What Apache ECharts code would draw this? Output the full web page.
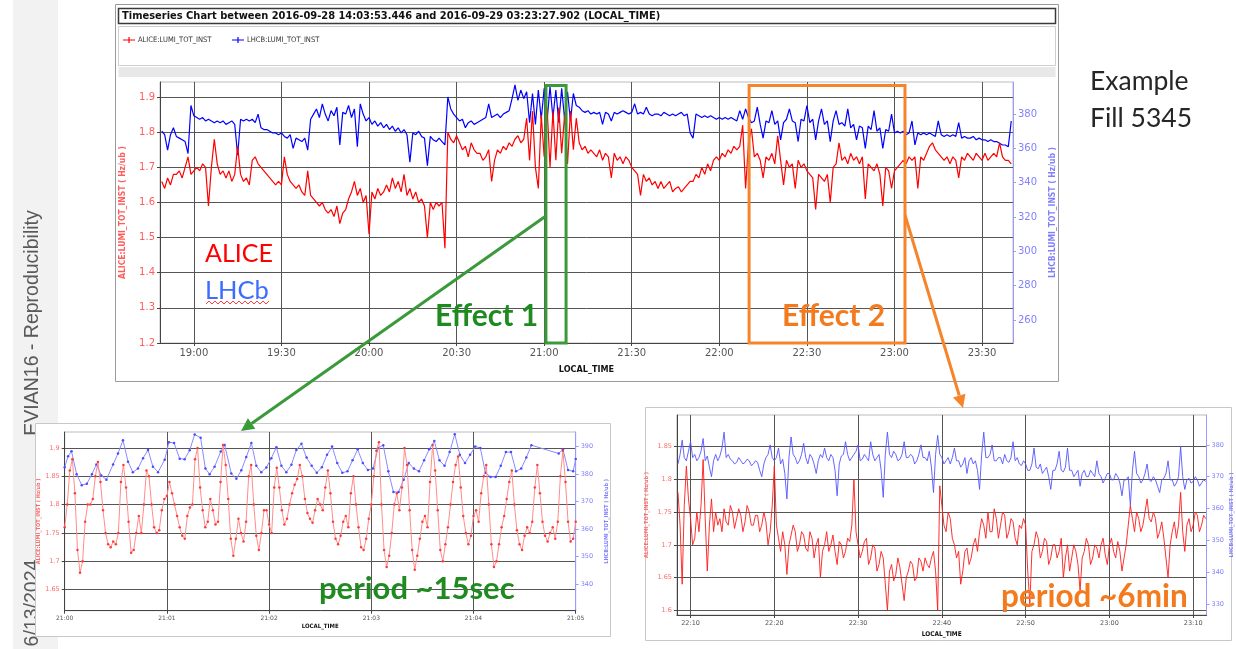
<!DOCTYPE html>
<html><head><meta charset="utf-8">
<script src="https://cdn.jsdelivr.net/npm/echarts@6/dist/echarts.min.js"></script>
<style>html,body{margin:0;padding:0;background:#fff;}#c{width:1236px;height:649px;}</style>
</head><body><div id="c"></div>
<script>
// ================= DATA =================
// Main chart: one sample per minute starting 18:49 (minutes since midnight)
const mainStartMin = 1129;
const mainAlice = [
1.66,1.64,1.67,1.65,1.68,1.68,1.69,1.67,1.70,1.73,
1.68,1.69,1.70,1.69,1.71,1.70,1.59,1.70,1.78,1.71,
1.68,1.69,1.67,1.69,1.66,1.68,1.76,1.68,1.66,1.67,
1.65,1.72,1.73,1.71,1.70,1.69,1.68,1.67,1.66,1.65,
1.66,1.65,1.73,1.68,1.66,1.65,1.64,1.65,1.63,1.62,
1.69,1.62,1.61,1.60,1.59,1.60,1.58,1.57,1.58,1.56,
1.59,1.54,1.57,1.58,1.61,1.63,1.66,1.62,1.64,1.60,
1.62,1.51,1.63,1.61,1.64,1.62,1.63,1.65,1.63,1.67,
1.64,1.66,1.63,1.68,1.62,1.64,1.61,1.63,1.60,1.61,
1.59,1.50,1.60,1.58,1.60,1.59,1.60,1.47,1.80,1.78,
1.77,1.79,1.77,1.75,1.76,1.73,1.77,1.75,1.74,1.74,
1.72,1.73,1.75,1.66,1.72,1.75,1.74,1.76,1.75,1.77,
1.76,1.78,1.79,1.77,1.78,1.84,1.72,1.86,1.70,1.64,
1.85,1.73,1.87,1.70,1.86,1.72,1.87,1.74,1.85,1.71,
1.86,1.75,1.84,1.77,1.75,1.76,1.74,1.75,1.74,1.73,
1.75,1.72,1.74,1.73,1.67,1.74,1.72,1.73,1.71,1.73,
1.72,1.70,1.69,1.68,1.62,1.68,1.66,1.67,1.65,1.66,
1.64,1.66,1.64,1.65,1.66,1.63,1.64,1.645,1.63,1.64,
1.65,1.66,1.66,1.68,1.67,1.70,1.68,1.71,1.69,1.72,
1.73,1.72,1.74,1.73,1.75,1.74,1.76,1.75,1.76,1.82,
1.64,1.77,1.81,1.73,1.74,1.72,1.67,1.73,1.72,1.74,
1.71,1.79,1.72,1.65,1.72,1.70,1.71,1.64,1.72,1.70,
1.71,1.69,1.68,1.67,1.58,1.68,1.67,1.66,1.68,1.60,
1.70,1.71,1.77,1.72,1.73,1.71,1.74,1.72,1.73,1.71,
1.73,1.61,1.71,1.70,1.69,1.71,1.68,1.59,1.70,1.69,
1.64,1.69,1.70,1.71,1.72,1.71,1.73,1.72,1.73,1.64,
1.73,1.72,1.74,1.76,1.77,1.75,1.74,1.73,1.72,1.73,
1.71,1.73,1.72,1.67,1.73,1.72,1.74,1.73,1.72,1.74,
1.73,1.72,1.74,1.72,1.73,1.74,1.73,1.77,1.73,1.72,
1.72,1.71];
const mainLhcb = [
370,368,359,368,372,367,366,365,364,357,
385,379,378,377,378,376,377,376,375,376,
375,376,374,375,376,374,356,377,376,377,
376,377,375,380,372,371,371,370,369,369,
368,369,367,366,368,360,366,365,364,366,
359,377,380,383,378,386,380,376,382,379,
384,362,381,380,385,378,383,361,386,380,
376,378,374,376,373,375,372,374,371,373,
370,372,369,371,368,352,369,368,370,367,
366,350,367,365,364,366,364,362,390,383,
380,378,376,377,372,375,376,374,375,376,
377,378,386,378,379,380,378,380,381,382,
389,397,388,394,389,393,375,392,374,394,
377,395,376,396,378,394,375,395,377,393,
376,392,385,384,382,381,382,380,381,380,
381,374,381,380,376,381,380,381,382,381,
380,381,386,380,381,380,384,380,379,380,
380,379,381,380,379,380,379,380,381,379,
380,369,366,380,379,378,379,378,379,378,
377,378,377,378,377,378,377,376,382,377,
383,378,375,376,384,374,366,376,375,382,
374,376,365,375,377,383,376,375,364,377,
376,385,375,377,365,376,383,374,376,364,
376,382,374,375,373,383,372,374,365,373,
372,360,373,371,382,370,372,360,371,370,
380,369,370,369,370,368,369,376,362,369,
368,369,368,369,368,367,376,368,367,368,
367,368,367,375,366,367,366,366,367,365,
366,365,365,364,365,364,364,363,362,362,
361,376];
const mainTicks = [1140,1170,1200,1230,1260,1290,1320,1350,1380,1410];
const mainLeftTicks = [1.2,1.3,1.4,1.5,1.6,1.7,1.8,1.9];
const mainRightTicks = [260,280,300,320,340,360,380];
const effect1Range = [1260.6, 1267.5];   // minutes
const effect2Range = [1330.2, 1383.6];

// Zoom 1 (21:00-21:05): ALICE every 1.5 s, LHCb at its own sample times (s)
const z1AliceStepSec = 1.5;
const z1Alice = [
1.76,1.80,1.86,1.88,1.82,1.72,1.68,1.70,1.77,1.80,
1.80,1.81,1.85,1.875,1.84,1.79,1.75,1.73,1.725,1.735,
1.73,1.75,1.84,1.87,1.83,1.77,1.715,1.72,1.75,1.78,
1.75,1.80,1.86,1.85,1.80,1.76,1.75,1.755,1.79,1.81,
1.815,1.84,1.82,1.80,1.78,1.76,1.745,1.74,1.78,1.795,
1.80,1.88,1.90,1.83,1.79,1.76,1.77,1.81,1.79,1.765,
1.77,1.84,1.905,1.87,1.81,1.74,1.71,1.74,1.775,1.75,
1.735,1.77,1.85,1.87,1.80,1.745,1.72,1.75,1.79,1.79,
1.765,1.75,1.83,1.865,1.83,1.79,1.765,1.775,1.80,1.82,
1.835,1.845,1.87,1.85,1.81,1.785,1.775,1.768,1.79,1.81,
1.80,1.79,1.83,1.86,1.82,1.77,1.74,1.73,1.745,1.77,
1.78,1.76,1.82,1.85,1.80,1.76,1.725,1.72,1.74,1.775,
1.80,1.85,1.895,1.91,1.80,1.72,1.69,1.71,1.75,1.80,
1.82,1.79,1.83,1.90,1.87,1.79,1.72,1.685,1.71,1.74,
1.77,1.78,1.76,1.84,1.905,1.86,1.79,1.72,1.70,1.73,
1.76,1.80,1.84,1.87,1.885,1.83,1.78,1.75,1.73,1.745,
1.78,1.79,1.77,1.82,1.85,1.87,1.80,1.73,1.69,1.70,
1.73,1.76,1.78,1.81,1.84,1.86,1.80,1.755,1.73,1.72,
1.745,1.76,1.75,1.77,1.83,1.87,1.82,1.77,1.745,1.735,
1.75,1.76,1.74,1.77,1.85,1.895,1.84,1.77,1.735,1.74,
1.77];
const z1LhcbSec = [0,2,4,7,10,13,16,18.6,21.5,24.5,28.4,31.3,34.2,37.2,40,43,46,48.9,51.8,54.8,
58.7,61.2,64.2,67.5,70.4,73.4,76.3,79.8,82.6,85.1,88,91.6,93.9,97.8,100.8,103.7,106.6,109.6,112.5,115.4,
118.4,121.3,124.3,127.2,130.1,133.1,136,139,142,145,148,151,154,157,160,163,166,169,172,175,
178,181,184,187,190,193,196,199,202,205,208,211,214,217,220,223,226,229,232,235,
238,241,244,247,250,253,256,259,262,265,268,271,274,290,292.5,295.5,298.5,300];
const z1Lhcb = [382.5,386.5,388.3,380,376,376.5,380,383.5,379.5,378,383.5,387.5,392.3,384.5,380.7,382,385.8,388.8,382.7,380.7,
385.2,391.6,391.3,385.6,385.4,388.7,394.4,393.2,382,380,382.7,388.2,390.6,380.2,378.3,381.4,386.2,391.3,383,380.7,
382.4,385.8,389.8,383,380.7,383.4,388.8,391,386,383,380.5,382.5,387,390,384,380.5,381,385,389,384,
381.5,382,389.5,390.5,381,373.5,373.5,378,384,382,381,385,389,392,385,383,388,394.5,387,384,
387,390,389.5,380.5,379,379,383,388,388,381,382,386,390.5,387.5,389,381.5,381,385.5];
const z1Ticks = [0,60,120,180,240,300];
const z1LeftTicks = [1.65,1.7,1.75,1.8,1.85,1.9];
const z1RightTicks = [340,350,360,370,380,390];

// Zoom 2 (22:08-23:11): one sample every 0.25 min from 22:08:30
const z2StartMin = 1328.5;
const z2StepMin = 0.25;
const z2Alice = [
1.78,1.73,1.64,1.76,1.82,1.77,1.74,1.70,1.71,1.75,1.72,1.76,1.83,1.74,1.66,1.73,1.77,1.72,1.75,1.73,
1.74,1.72,1.755,1.735,1.73,1.76,1.75,1.725,1.74,1.755,1.745,1.72,1.735,1.76,1.75,1.73,1.73,1.745,1.745,1.72,
1.73,1.75,1.735,1.70,1.72,1.76,1.82,1.73,1.71,1.69,1.72,1.70,1.655,1.70,1.715,1.73,1.72,1.69,1.70,1.72,
1.715,1.695,1.69,1.72,1.71,1.68,1.70,1.71,1.65,1.69,1.70,1.72,1.69,1.70,1.715,1.69,1.67,1.705,1.70,1.68,
1.69,1.71,1.705,1.73,1.80,1.72,1.70,1.68,1.69,1.705,1.71,1.67,1.68,1.70,1.695,1.66,1.67,1.69,1.68,1.64,
1.60,1.66,1.67,1.645,1.655,1.68,1.665,1.64,1.615,1.65,1.66,1.675,1.67,1.645,1.65,1.68,1.675,1.66,1.68,1.67,
1.665,1.68,1.69,1.66,1.60,1.79,1.76,1.73,1.72,1.75,1.74,1.71,1.70,1.68,1.69,1.64,1.66,1.69,1.695,1.67,
1.68,1.70,1.71,1.69,1.72,1.74,1.73,1.71,1.75,1.72,1.72,1.755,1.74,1.71,1.73,1.75,1.745,1.71,1.72,1.74,
1.735,1.71,1.70,1.73,1.725,1.74,1.73,1.66,1.61,1.69,1.70,1.72,1.71,1.68,1.69,1.71,1.705,1.67,1.68,1.70,
1.70,1.68,1.69,1.71,1.65,1.68,1.70,1.66,1.68,1.70,1.69,1.67,1.63,1.68,1.69,1.71,1.70,1.67,1.68,1.70,
1.695,1.68,1.70,1.71,1.685,1.67,1.70,1.71,1.69,1.68,1.705,1.69,1.66,1.68,1.70,1.73,1.76,1.74,1.72,1.75,
1.74,1.72,1.73,1.75,1.77,1.74,1.735,1.75,1.74,1.71,1.72,1.735,1.71,1.68,1.65,1.70,1.72,1.735,1.71,1.73,
1.78,1.72,1.69,1.73,1.74,1.72,1.73,1.75,1.745,1.72,1.73,1.745,1.74];
const z2Lhcb = [
374,377,381.5,376,375,378,381,376,377,375,376,378,382,375,376.5,373,370,375,377,375,
376.5,379,384,376,377,375.5,375,374,374.5,376,375,374,374.5,375.5,375,373.5,374,375,374.5,372,
370,374,376,377,380,376,375,376,379,374,375.5,371,363,376,382.5,377,376,374,375,377,
380.5,376,374,377,376,374,371,375,377,376,379,376,375,377,376,372,364,374,376.5,377,
381,377,375,376,377,378,380,375,375.5,377,376,375,381,377,375,376,377,372,363.5,377,
384,377,376,378,377,375,375.5,377,381,376,376,377,376.5,374,375,377,380,376,376,375,
378,373,365,377,383,377,376,374,375,376,374,376,379,375,375,373,374,376,371,375,
376,374,375,372,366,377,384,376,376,377,380,375,375,376,376,374,377,375,374.5,376,
381,375,376,374,373.5,375,374,372,372,374,379,373,372.5,374,371,372,373,370,366,372,
372,374,378,372,371.5,373,379,372,372,370,371,372,367,371,372,370,370,372,371,370,
375,371,370,368,369.5,371,371,369,369,371,370,368,364,369,369,370,361,372,378,371,
370,368,369,371,374,369,368.5,370,369,367,365,369,369.5,371,375,369,369,367,368,370,
379.5,370,366,369,369.5,368,368.5,370,369,367,368,369,368.5];
const z2Ticks = [1330,1340,1350,1360,1370,1380,1390];
const z2LeftTicks = [1.6,1.65,1.7,1.75,1.8,1.85];
const z2RightTicks = [330,340,350,360,370,380];

// ================= CHART =================
const hhmm = m => { const h = Math.floor(m / 60 + 1e-9); const mm = Math.round(m - h * 60); return h + ':' + String(mm).padStart(2, '0'); };
const num = v => String(+(+v).toFixed(2));
const LBL = 'DejaVu Sans';
const NARROW = "'Liberation Sans Narrow','DejaVu Sans Condensed',sans-serif";

function xAx(grid, min, max, ticks, fmt, fs, nameGap, nameFs) {
  return {
    type: 'value', gridIndex: grid, min: min, max: max,
    axisLine: { show: true, onZero: false, lineStyle: { color: '#444', width: 1 } },
    axisTick: { show: true, customValues: ticks, length: 3, lineStyle: { color: '#444' } },
    axisLabel: { customValues: ticks, formatter: fmt, color: '#555', fontSize: fs, fontFamily: LBL, margin: 5 },
    splitLine: { show: true, lineStyle: { color: '#555', width: 1 } },
    name: 'LOCAL_TIME', nameLocation: 'middle', nameGap: nameGap,
    nameTextStyle: { color: '#111', fontWeight: 'bold', fontSize: nameFs, fontFamily: NARROW }
  };
}
function yAx(grid, pos, min, max, ticks, color, lineColor, fs, name, nameGap, nameFs, split) {
  return {
    type: 'value', gridIndex: grid, position: pos, min: min, max: max,
    axisLine: { show: true, onZero: false, lineStyle: { color: lineColor, width: 1 } },
    axisTick: { show: true, customValues: ticks, length: 3, lineStyle: { color: lineColor } },
    axisLabel: { customValues: ticks, formatter: num, color: color, fontSize: fs, fontFamily: LBL, margin: 5 },
    splitLine: { show: split, lineStyle: { color: '#555', width: 1 } },
    name: name, nameLocation: 'middle', nameGap: nameGap, nameRotate: 90,
    nameTextStyle: { color: color, fontWeight: 'bold', fontSize: nameFs, fontFamily: NARROW }
  };
}

const chart = echarts.init(document.getElementById('c'), null, { renderer: 'canvas' });
const aliceName = 'ALICE:LUMI_TOT_INST ( Hz/ub )';
const lhcbName = 'LHCB:LUMI_TOT_INST ( Hz/ub )';

chart.setOption({
  animation: false,
  backgroundColor: '#ffffff',
  grid: [
    { left: 160, top: 82, width: 853, height: 261, show: true, borderColor: '#bbb', borderWidth: 1 },
    { left: 64.7, top: 432, width: 511, height: 178.7, show: true, borderColor: '#bbb', borderWidth: 1 },
    { left: 676.9, top: 415, width: 529.6, height: 200, show: true, borderColor: '#bbb', borderWidth: 1 }
  ],
  xAxis: [
    xAx(0, 1128.4, 1420.6, mainTicks, hhmm, 10, 22, 9),
    xAx(1, 0, 300, z1Ticks, s => '21:0' + Math.round(s / 60), 6, 13, 6),
    xAx(2, 1328.37, 1391.59, z2Ticks, hhmm, 6.5, 16, 6.5)
  ],
  yAxis: [
    yAx(0, 'left', 1.2, 1.943, mainLeftTicks, '#ff5c5c', '#444', 10, aliceName, 33, 8.5, true),
    yAx(0, 'right', 246.6, 398.7, mainRightTicks, '#8080ff', '#9a9aff', 10, lhcbName, 33, 8.5, false),
    yAx(1, 'left', 1.613, 1.928, z1LeftTicks, '#ff6a6a', '#444', 6.5, aliceName, 21, 5.5, true),
    yAx(1, 'right', 330.4, 395.3, z1RightTicks, '#8080ff', '#9a9aff', 6.5, lhcbName, 28, 5.5, false),
    yAx(2, 'left', 1.593, 1.898, z2LeftTicks, '#ff6a6a', '#444', 6.5, aliceName, 27, 5.5, true),
    yAx(2, 'right', 326.5, 389.4, z2RightTicks, '#8080ff', '#9a9aff', 6.5, lhcbName, 22, 5.5, false)
  ],
  series: [
    { name: 'LHCB:LUMI_TOT_INST', type: 'line', xAxisIndex: 0, yAxisIndex: 1, showSymbol: false, z: 2,
      lineStyle: { color: '#0000ff', width: 1.2 }, itemStyle: { color: '#0000ff' },
      data: mainLhcb.map((v, i) => [mainStartMin + i, v]) },
    { name: 'ALICE:LUMI_TOT_INST', type: 'line', xAxisIndex: 0, yAxisIndex: 0, showSymbol: false, z: 3,
      lineStyle: { color: '#ff0000', width: 1.2 }, itemStyle: { color: '#ff0000' },
      data: mainAlice.map((v, i) => [mainStartMin + i, v]) },
    { name: 'LHCB:LUMI_TOT_INST', type: 'line', xAxisIndex: 1, yAxisIndex: 3, symbol: 'circle', symbolSize: 2.5, z: 2,
      lineStyle: { color: '#8a8aff', width: 1 }, itemStyle: { color: '#4a4aff' },
      data: z1LhcbSec.map((s, i) => [s, z1Lhcb[i]]) },
    { name: 'ALICE:LUMI_TOT_INST', type: 'line', xAxisIndex: 1, yAxisIndex: 2, symbol: 'circle', symbolSize: 2.5, z: 3,
      lineStyle: { color: '#ff8c8c', width: 1 }, itemStyle: { color: '#ff3a3a' },
      data: z1Alice.map((v, i) => [i * z1AliceStepSec, v]) },
    { name: 'LHCB:LUMI_TOT_INST', type: 'line', xAxisIndex: 2, yAxisIndex: 5, showSymbol: false, z: 2,
      lineStyle: { color: '#5555ff', width: 0.9 }, itemStyle: { color: '#5555ff' },
      data: z2Lhcb.map((v, i) => [z2StartMin + i * z2StepMin, v]) },
    { name: 'ALICE:LUMI_TOT_INST', type: 'line', xAxisIndex: 2, yAxisIndex: 4, showSymbol: false, z: 3,
      lineStyle: { color: '#ff1a1a', width: 0.9 }, itemStyle: { color: '#ff1a1a' },
      data: z2Alice.map((v, i) => [z2StartMin + i * z2StepMin, v]) }
  ]
});

// ---------- decorations (positions of the boxes come from the axes) ----------
const px = (t, v) => chart.convertToPixel({ xAxisIndex: 0, yAxisIndex: 0 }, [t, v]);
const e1a = px(effect1Range[0], 1.933), e1b = px(effect1Range[1], 1.2);
const e2a = px(effect2Range[0], 1.933), e2b = px(effect2Range[1], 1.2);
const GREEN = '#3a9a3a', GREEN_T = '#1f8a1f', ORANGE = '#f5842a', ORANGE_T = '#f47a1e';
const slideFont = "'Lato','Open Sans',sans-serif";

function arrow(x1, y1, x2, y2, color) {
  const a = Math.atan2(y2 - y1, x2 - x1), L = 13, W = 6.5;
  const bx = x2 - L * Math.cos(a), by = y2 - L * Math.sin(a);
  return [
    { type: 'line', z: 60, shape: { x1: x1, y1: y1, x2: bx, y2: by }, style: { stroke: color, lineWidth: 3 } },
    { type: 'polygon', z: 60, shape: { points: [[x2, y2], [bx + W * Math.sin(a), by - W * Math.cos(a)], [bx - W * Math.sin(a), by + W * Math.cos(a)]] }, style: { fill: color } }
  ];
}
const wavy = [];
for (let x = 206, k = 0; x <= 270; x += 3, k++) wavy.push([x, k % 2 ? 301 : 304]);

const T = (text, x, y, font, fill, z, extra) => Object.assign({ type: 'text', z: z, x: x, y: y,
  style: { text: text, font: font, fill: fill, align: 'left', verticalAlign: 'middle' } }, extra || {});

const g = [
  { type: 'rect', z: -9, shape: { x: 13, y: 0, width: 45, height: 649 }, style: { fill: '#f2f2f2' } },
  { type: 'text', z: -8, x: 33, y: 323, rotation: Math.PI / 2,
    style: { text: 'EVIAN16 - Reproducibility', font: "19.5px 'Liberation Sans',Arial,sans-serif", fill: '#595959', align: 'center', verticalAlign: 'middle' } },
  { type: 'text', z: -8, x: 33, y: 603, rotation: Math.PI / 2,
    style: { text: '6/13/2024', font: "19.5px 'Liberation Sans',Arial,sans-serif", fill: '#595959', align: 'center', verticalAlign: 'middle' } },
  // main chart panel
  { type: 'rect', z: -7, shape: { x: 115.5, y: 4.5, width: 943, height: 377 }, style: { fill: '#fff', stroke: '#9a9a9a', lineWidth: 1 } },
  { type: 'rect', z: -6, shape: { x: 118.5, y: 8.5, width: 937, height: 15 }, style: { fill: '#fff', stroke: '#3a3a3a', lineWidth: 1.5 } },
  { type: 'rect', z: -6, shape: { x: 118.5, y: 26.5, width: 937, height: 39 }, style: { fill: '#fff', stroke: '#cfcfcf', lineWidth: 1 } },
  { type: 'rect', z: -6, shape: { x: 118.5, y: 67, width: 937, height: 10 }, style: { fill: '#e8e8e8' } },
  T('Timeseries Chart between 2016-09-28 14:03:53.446 and 2016-09-29 03:23:27.902 (LOCAL_TIME)', 122, 16.5, "bold 11px " + NARROW, '#111', -5),
  { type: 'line', z: -5, shape: { x1: 123, y1: 40, x2: 135, y2: 40 }, style: { stroke: '#ff0000', lineWidth: 1 } },
  { type: 'line', z: -5, shape: { x1: 129, y1: 37, x2: 129, y2: 43 }, style: { stroke: '#ff0000', lineWidth: 1.2 } },
  T('ALICE:LUMI_TOT_INST', 138, 40.5, "7.5px " + NARROW, '#333', -5),
  { type: 'line', z: -5, shape: { x1: 232, y1: 40, x2: 244, y2: 40 }, style: { stroke: '#0000ff', lineWidth: 1 } },
  { type: 'line', z: -5, shape: { x1: 238, y1: 37, x2: 238, y2: 43 }, style: { stroke: '#0000ff', lineWidth: 1.2 } },
  T('LHCB:LUMI_TOT_INST', 247, 40.5, "7.5px " + NARROW, '#333', -5),
  // zoom panels
  { type: 'rect', z: -7, shape: { x: 35.5, y: 423.5, width: 575, height: 213 }, style: { fill: '#fff', stroke: '#c8c8c8', lineWidth: 1 } },
  { type: 'rect', z: -7, shape: { x: 645.5, y: 407.5, width: 586, height: 233 }, style: { fill: '#fff', stroke: '#c8c8c8', lineWidth: 1 } },
  // annotations
  { type: 'rect', z: 55, shape: { x: e1a[0], y: e1a[1], width: e1b[0] - e1a[0], height: e1b[1] - e1a[1] }, style: { fill: 'none', stroke: GREEN, lineWidth: 3 } },
  { type: 'rect', z: 55, shape: { x: e2a[0], y: e2a[1], width: e2b[0] - e2a[0], height: e2b[1] - e2a[1] }, style: { fill: 'none', stroke: ORANGE, lineWidth: 3 } },
  ...arrow(e1a[0], 216, 241, 431, GREEN),
  ...arrow(e2b[0], 215, 963, 408, ORANGE),
  T('ALICE', 205, 254, "25px " + slideFont, '#ff0000', 60),
  T('LHCb', 205, 291, "25.5px " + slideFont, '#3d6dff', 60),
  { type: 'polyline', z: 60, shape: { points: wavy }, style: { stroke: '#ff4040', lineWidth: 1, fill: null } },
  T('Effect 1', 435, 316, "bold 30px " + slideFont, GREEN_T, 60),
  T('Effect 2', 782, 316, "bold 30px " + slideFont, ORANGE_T, 60),
  T('period ~15sec', 319, 589, "bold 31px " + slideFont, GREEN_T, 60),
  T('period ~6min', 1001, 597, "bold 31.5px " + slideFont, ORANGE_T, 60),
  T('Example', 1090, 81, "26.5px " + slideFont, '#262626', 60),
  T('Fill 5345', 1090, 118, "26.5px " + slideFont, '#262626', 60)
];
chart.setOption({ graphic: g });
</script></body></html>
